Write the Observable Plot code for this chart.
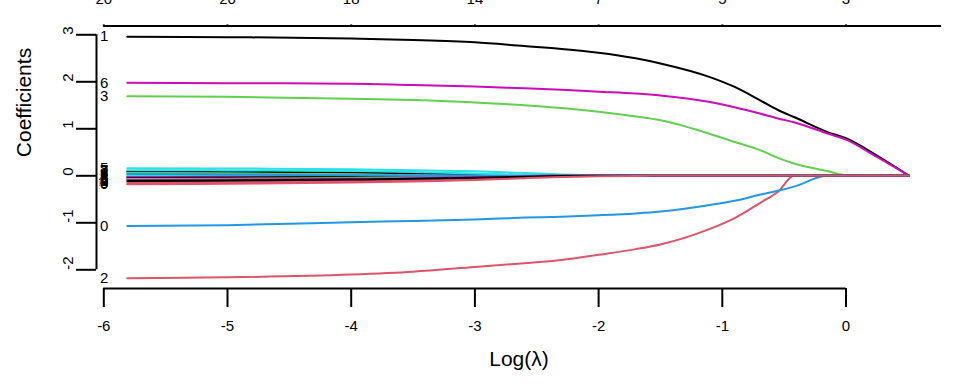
<!DOCTYPE html>
<html>
<head>
<meta charset="utf-8">
<script src="https://cdn.jsdelivr.net/npm/d3@7"></script>
<script src="https://cdn.jsdelivr.net/npm/@observablehq/plot@0.6"></script>
<style>
  html, body { margin: 0; padding: 0; background: white; }
  #chart { width: 960px; height: 384px; overflow: hidden; }
</style>
</head>
<body>
<div id="chart"></div>
<script>
// log(lambda) grid where coefficients were read
const lambdaGrid = [-5.81, -5, -4, -3.5, -3, -2.6, -2.3, -2, -1.7, -1.5, -1.1, -0.9, -0.69, -0.55, -0.42, -0.15, 0, 0.25, 0.51];

// coefficient paths, one array per variable
const coefV1  = [2.96, 2.95, 2.92, 2.89, 2.84, 2.76, 2.70, 2.62, 2.50, 2.39, 2.10, 1.89, 1.60, 1.40, 1.25, 0.93, 0.80, 0.43, 0];
const coefV2  = [-2.18, -2.16, -2.10, -2.04, -1.94, -1.86, -1.79, -1.68, -1.56, -1.46, -1.13, -0.90, -0.57, -0.34, 0, 0, 0, 0, 0];
const coefV3  = [1.69, 1.68, 1.64, 1.61, 1.56, 1.50, 1.44, 1.36, 1.26, 1.18, 0.89, 0.72, 0.54, 0.38, 0.26, 0.10, 0.01, 0, 0];
const coefV4  = [-0.01, -0.005, 0, 0, 0, 0, 0, 0, 0, 0, 0, 0, 0, 0, 0, 0, 0, 0, 0];
const coefV5  = [0.16, 0.155, 0.14, 0.12, 0.095, 0.06, 0.03, 0.012, 0.004, 0, 0, 0, 0, 0, 0, 0, 0, 0, 0];
const coefV6  = [1.98, 1.97, 1.96, 1.93, 1.90, 1.86, 1.83, 1.79, 1.75, 1.71, 1.57, 1.46, 1.32, 1.22, 1.14, 0.90, 0.77, 0.40, 0];
const coefV7  = [0.09, 0.085, 0.07, 0.055, 0.035, 0.012, 0, 0, 0, 0, 0, 0, 0, 0, 0, 0, 0, 0, 0];
const coefV8  = [-0.155, -0.145, -0.12, -0.10, -0.07, -0.04, -0.018, 0, 0, 0, 0, 0, 0, 0, 0, 0, 0, 0, 0];
const coefV9  = [0.06, 0.05, 0.03, 0.012, 0, 0, 0, 0, 0, 0, 0, 0, 0, 0, 0, 0, 0, 0, 0];
const coefV10 = [-1.07, -1.05, -0.99, -0.96, -0.93, -0.89, -0.87, -0.84, -0.80, -0.76, -0.62, -0.53, -0.40, -0.32, -0.23, 0, 0, 0, 0];
const coefV11 = [0.015, 0.008, 0, 0, 0, 0, 0, 0, 0, 0, 0, 0, 0, 0, 0, 0, 0, 0, 0];
const coefV12 = [-0.03, -0.022, -0.008, 0, 0, 0, 0, 0, 0, 0, 0, 0, 0, 0, 0, 0, 0, 0, 0];
const coefV13 = [-0.05, -0.04, -0.02, -0.006, 0, 0, 0, 0, 0, 0, 0, 0, 0, 0, 0, 0, 0, 0, 0];
const coefV14 = [-0.125, -0.115, -0.095, -0.075, -0.05, -0.025, -0.008, 0, 0, 0, 0, 0, 0, 0, 0, 0, 0, 0, 0];
const coefV15 = [-0.07, -0.062, -0.045, -0.03, -0.015, -0.004, 0, 0, 0, 0, 0, 0, 0, 0, 0, 0, 0, 0, 0];
const coefV16 = [0.04, 0.03, 0.012, 0.003, 0, 0, 0, 0, 0, 0, 0, 0, 0, 0, 0, 0, 0, 0, 0];
const coefV17 = [0.12, 0.115, 0.10, 0.08, 0.05, 0.02, 0, 0, 0, 0, 0, 0, 0, 0, 0, 0, 0, 0, 0];
const coefV18 = [-0.09, -0.082, -0.065, -0.05, -0.03, -0.012, 0, 0, 0, 0, 0, 0, 0, 0, 0, 0, 0, 0, 0];
const coefV19 = [-0.11, -0.10, -0.08, -0.062, -0.04, -0.02, -0.006, 0, 0, 0, 0, 0, 0, 0, 0, 0, 0, 0, 0];
const coefV20 = [-0.18, -0.17, -0.145, -0.12, -0.09, -0.05, -0.025, -0.01, -0.003, 0, 0, 0, 0, 0, 0, 0, 0, 0, 0];

const coefPaths = [coefV1, coefV2, coefV3, coefV4, coefV5, coefV6, coefV7, coefV8, coefV9, coefV10,
                   coefV11, coefV12, coefV13, coefV14, coefV15, coefV16, coefV17, coefV18, coefV19, coefV20];

// axes
const xTicks = [-6, -5, -4, -3, -2, -1, 0];
const topLabels = ["20", "20", "18", "14", "7", "5", "3"];
const yTicks = [-2, -1, 0, 1, 2, 3];
const xDomain = [-6.059, 0.772];
const yDomain = [-2.398, 3.189];

// R matplot default colours (col = 1:6, recycled)
const pal = ["#000000", "#DF536B", "#61D04F", "#2297E6", "#28E2E5", "#CD0BBC"];

const rows = [];
coefPaths.forEach((path, vi) => {
  path.forEach((c, j) => rows.push({v: vi + 1, lam: lambdaGrid[j], coef: c}));
});
const labelRows = coefPaths.map((path, vi) => ({v: vi + 1, coef: path[0], lam: lambdaGrid[0]}));

const FONT = "'Liberation Sans', Arial, Helvetica, sans-serif";
const LABEL_FILL = "#010101";

const chart = Plot.plot({
  width: 960,
  height: 384,
  marginLeft: 96,
  marginRight: 19,
  marginTop: 25.4,
  marginBottom: 96,
  style: {fontFamily: FONT, fontSize: "15px", background: "white", color: "black", overflow: "visible"},
  x: {domain: xDomain, axis: null},
  y: {domain: yDomain, axis: null},
  marks: [
    // paths
    Plot.line(rows, {x: "lam", y: "coef", z: "v", stroke: d => pal[(d.v - 1) % 6], strokeWidth: 2, curve: "monotone-x"}),
    // curve labels at the left (clipped like R's plot region)
    Plot.text(labelRows, {x: "lam", y: "coef", text: d => String(d.v), textAnchor: "end", dx: -19, fontSize: 15, fill: LABEL_FILL}),
    // bottom axis
    Plot.ruleY([yDomain[0]], {x1: xTicks[0], x2: xTicks[xTicks.length - 1], strokeWidth: 2}),
    Plot.axisX({anchor: "bottom", ticks: xTicks, tickSize: 19, tickFormat: () => "", strokeWidth: 2, label: null}),
    Plot.text(xTicks, {x: d => d, frameAnchor: "bottom", dy: 42, text: d => String(d), fontSize: 15}),
    Plot.text(["Log(λ)"], {frameAnchor: "bottom", dy: 77, text: d => d, fontSize: 21}),
    // top axis
    Plot.ruleY([yDomain[1]], {x1: xTicks[0], x2: xDomain[1], strokeWidth: 2}),
    Plot.axisX({anchor: "top", ticks: xTicks, tickSize: 2, tickFormat: () => "", strokeWidth: 2, label: null}),
    Plot.text(xTicks, {x: d => d, frameAnchor: "top", dy: -22, lineAnchor: "bottom", text: (d, i) => topLabels[i], fontSize: 15}),
    // left axis
    Plot.ruleX([xDomain[0]], {y1: yTicks[0], y2: yTicks[yTicks.length - 1], strokeWidth: 2}),
    Plot.axisY({anchor: "left", ticks: yTicks, tickSize: 20, tickFormat: () => "", strokeWidth: 2, label: null}),
    Plot.text(yTicks, {y: d => d, frameAnchor: "left", dx: -28.5, rotate: -90, text: d => String(d), fontSize: 15}),
    Plot.text(["Coefficients"], {frameAnchor: "left", dx: -72.5, rotate: -90, text: d => d, fontSize: 21})
  ]
});

// clip the curve labels at the left edge of the drawing region, as R does
const svgEl = chart.tagName.toLowerCase() === "svg" ? chart : chart.querySelector("svg");
const NS = "http://www.w3.org/2000/svg";
const defs = document.createElementNS(NS, "defs");
const cp = document.createElementNS(NS, "clipPath");
cp.setAttribute("id", "label-clip");
cp.setAttribute("clipPathUnits", "userSpaceOnUse");
const cr = document.createElementNS(NS, "rect");
cr.setAttribute("x", "99.2"); cr.setAttribute("y", "0");
cr.setAttribute("width", "900"); cr.setAttribute("height", "384");
cp.appendChild(cr); defs.appendChild(cp);
svgEl.insertBefore(defs, svgEl.firstChild);
svgEl.querySelectorAll("g").forEach(g => {
  const f = (g.getAttribute("fill") || "").toLowerCase();
  if (f === LABEL_FILL) {
    // wrap the label group in a clipped group so its own transform does not shift the clip
    const wrap = document.createElementNS(NS, "g");
    wrap.setAttribute("clip-path", "url(#label-clip)");
    g.parentNode.insertBefore(wrap, g);
    wrap.appendChild(g);
  }
});

document.getElementById("chart").appendChild(chart);
</script>
</body>
</html>
